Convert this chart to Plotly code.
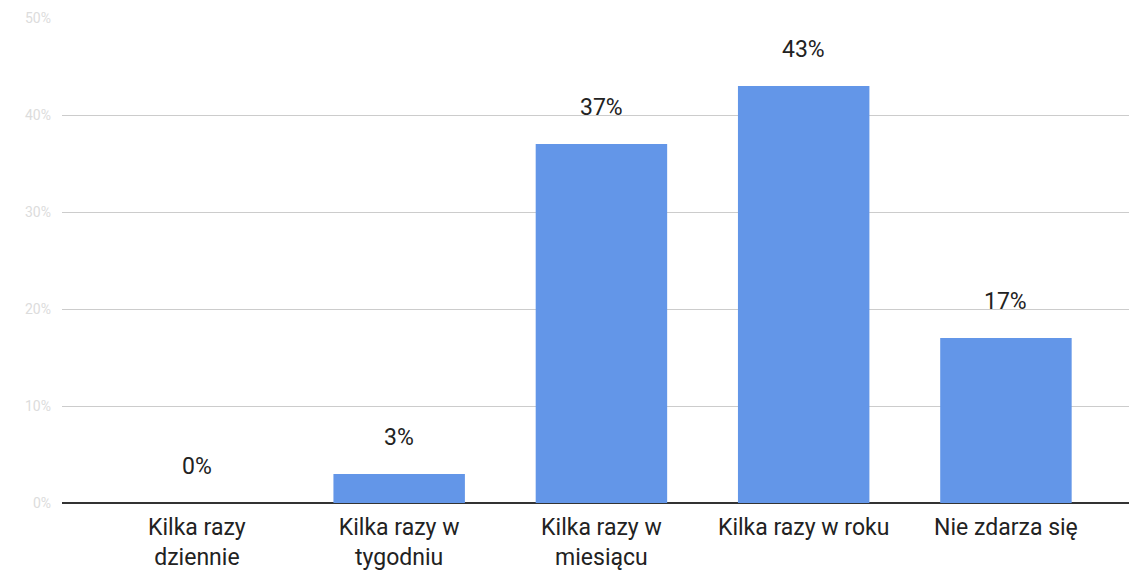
import plotly.graph_objects as go

# ─── Data ─────────────────────────────────────────────────────────────────────
CATEGORIES = ["Kilka razy<br>dziennie", "Kilka razy w<br>tygodniu",
              "Kilka razy w<br>miesiącu", "Kilka razy w roku", "Nie zdarza się"]
VALUES = [0, 3, 37, 43, 17]
Y_TICKS = [0, 10, 20, 30, 40, 50]
Y_TICK_LABELS = ["0%", "10%", "20%", "30%", "40%", "50%"]

BAR = "#6396E8"
TEXT = "#222222"
FAINT = "#dcdcdc"
FONT = "Roboto, Arial, sans-serif"

fig = go.Figure(go.Bar(
    x=CATEGORIES,
    y=VALUES,
    marker=dict(color=BAR, line=dict(width=0)),
    width=0.65,
    hoverinfo="skip",
))

# value labels above bars
for cat, v in zip(CATEGORIES, VALUES):
    fig.add_annotation(
        x=cat, y=v, text=f"{v}%", showarrow=False,
        yanchor="bottom", yshift=21,
        font=dict(family=FONT, size=23, color=TEXT),
    )

# page body has an 8px margin, so the figure is sized to fit inside it
fig.update_layout(
    width=1129, height=566,
    paper_bgcolor="white", plot_bgcolor="white",
    margin=dict(l=54, r=0, t=10, b=71),
    showlegend=False,
    font=dict(family=FONT, color=TEXT),
    xaxis=dict(
        range=[-0.667, 4.648],
        showgrid=False, showline=False, zeroline=False,
        ticks="", ticklabelstandoff=8,
        tickfont=dict(family=FONT, size=23, color=TEXT),
    ),
    yaxis=dict(
        range=[0, 50],
        tickvals=Y_TICKS, ticktext=Y_TICK_LABELS,
        tickfont=dict(family=FONT, size=14, color=FAINT),
        ticklabelstandoff=10,
        gridcolor="#cccccc", gridwidth=1,
        zeroline=True, zerolinecolor="#333333", zerolinewidth=2,
        showline=False, ticks="",
    ),
)

fig.write_html("out.html")
